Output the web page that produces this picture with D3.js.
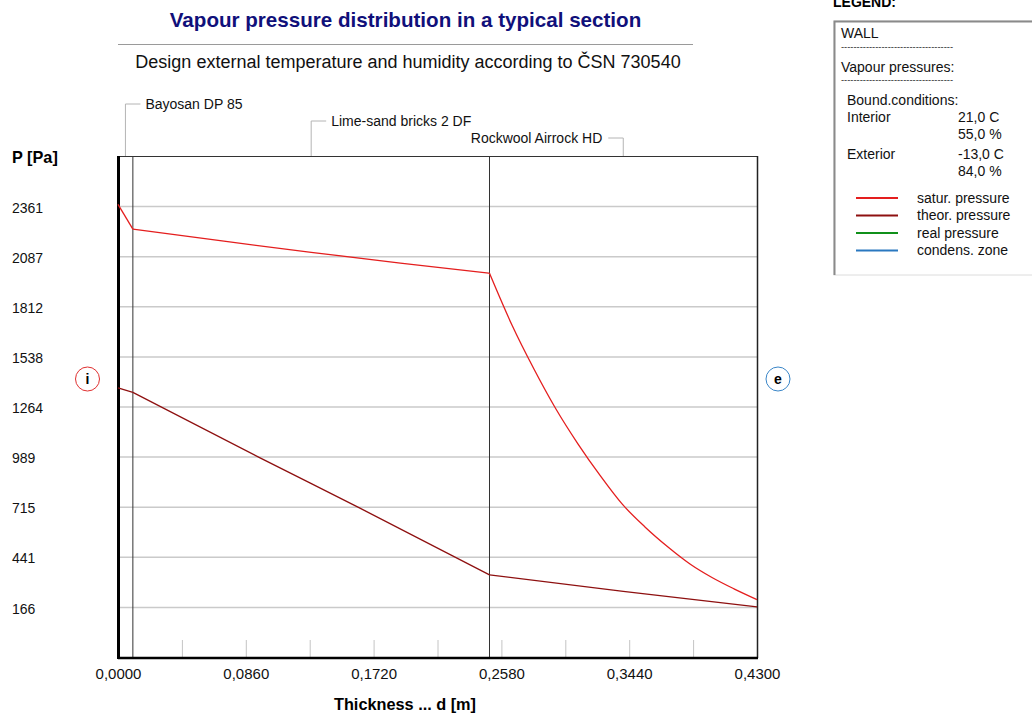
<!DOCTYPE html>
<html>
<head>
<meta charset="utf-8">
<script src="https://cdn.jsdelivr.net/npm/d3@7"></script>
<style>
  body { margin: 0; background: #fff; }
  svg { display: block; font-family: "Liberation Sans", Arial, sans-serif; }
</style>
</head>
<body>
<script>
const width = 1032
const height = 715

// layers of the wall (m)
const layerNames = ['Bayosan DP 85', 'Lime-sand bricks 2 DF', 'Rockwool Airrock HD']
const layerBounds = [0, 0.01, 0.25, 0.43]

// axis ticks
const yTicks = [166, 441, 715, 989, 1264, 1538, 1812, 2087, 2361]
const xTicks = [0, 0.043, 0.086, 0.129, 0.172, 0.215, 0.258, 0.301, 0.344, 0.387, 0.43]
const xLabels = [0, 0.086, 0.172, 0.258, 0.344, 0.43]

// saturation pressure
const saturX = [0, 0.01, 0.07, 0.13, 0.19, 0.25,
  0.2651, 0.2799, 0.2947, 0.3096, 0.3244, 0.3392, 0.3546, 0.3701, 0.3849, 0.3997, 0.4145, 0.43]
const saturP = [2370, 2235, 2170, 2108, 2049, 1993,
  1710, 1469, 1250, 1058, 886, 730, 604, 494, 401, 327, 265, 206]

// theoretical pressure
const theorX = [0, 0.01, 0.0956, 0.1628, 0.25, 0.34, 0.43]
const theorP = [1366, 1341, 982, 707, 341, 251, 166]

// legend
const legendNames = ['satur. pressure', 'theor. pressure', 'real pressure', 'condens. zone']
const legendColors = ['#e41e1e', '#8e1010', '#10901a', '#2a78c0']

const svg = d3.select('body').append('svg')
        .attr('width', width)
        .attr('height', height)

const pLeft = 118, pRight = 757, pTop = 156, pBottom = 657

const xScale = d3.scaleLinear().domain([0, 0.43]).range([pLeft, pRight])
const yScale = d3.scaleLinear().domain([-108.4, 2635.4]).range([pBottom, pTop])

// titles
svg.append('text')
        .attr('x', 405.5).attr('y', 27)
        .attr('text-anchor', 'middle')
        .attr('font-size', 20.6).attr('font-weight', 'bold')
        .attr('fill', '#10107a')
        .text('Vapour pressure distribution in a typical section')

svg.append('line')
        .attr('x1', 118).attr('x2', 693).attr('y1', 44.5).attr('y2', 44.5)
        .attr('stroke', '#9a9a9a')

svg.append('text')
        .attr('x', 408).attr('y', 68)
        .attr('text-anchor', 'middle')
        .attr('font-size', 18)
        .attr('fill', '#111')
        .text('Design external temperature and humidity according to ČSN 730540')

// y axis + grid
const yAxis = d3.axisLeft(yScale)
        .tickValues(yTicks)
        .tickSize(-(pRight - pLeft))
        .tickFormat(d => d)

const gy = svg.append('g')
        .attr('transform', 'translate(' + pLeft + ',0)')
        .call(yAxis)
gy.select('.domain').remove()
gy.selectAll('line').attr('stroke', '#cacaca').attr('stroke-width', 1.5)
gy.selectAll('text')
        .attr('x', 12 - pLeft).attr('dy', '0.45em')
        .attr('text-anchor', 'start')
        .attr('font-size', 14).attr('fill', '#111')
gy.attr('font-family', null).attr('font-size', null)

svg.append('text')
        .attr('x', 12).attr('y', 163)
        .attr('font-size', 16.3).attr('font-weight', 'bold')
        .text('P [Pa]')

// x axis
const xAxis = d3.axisBottom(xScale)
        .tickValues(xTicks)
        .tickSize(-17)
        .tickFormat(d => xLabels.some(v => Math.abs(v - d) < 1e-9) ? d3.format('.4f')(d).replace('.', ',') : '')

const gx = svg.append('g')
        .attr('transform', 'translate(0,' + pBottom + ')')
        .call(xAxis)
gx.select('.domain').remove()
gx.selectAll('line').attr('stroke', '#c4c4c4')
gx.selectAll('text')
        .attr('y', 11)
        .attr('font-size', 15).attr('fill', '#111')
gx.attr('font-family', null).attr('font-size', null)

svg.append('text')
        .attr('x', 405).attr('y', 710)
        .attr('text-anchor', 'middle')
        .attr('font-size', 16.3).attr('font-weight', 'bold')
        .text('Thickness ... d [m]')

// layer boundaries
svg.selectAll('.layer-line')
        .data(layerBounds.slice(1, -1))
        .join('line')
        .attr('class', 'layer-line')
        .attr('x1', d => xScale(d)).attr('x2', d => xScale(d))
        .attr('y1', pTop).attr('y2', pBottom)
        .attr('stroke', '#333')

// frame
svg.append('line').attr('x1', pLeft).attr('x2', pRight).attr('y1', pTop + 0.5).attr('y2', pTop + 0.5).attr('stroke', '#333')
svg.append('line').attr('x1', pRight + 0.5).attr('x2', pRight + 0.5).attr('y1', pTop).attr('y2', pBottom + 1).attr('stroke', '#222').attr('stroke-width', 1.5)
svg.append('line').attr('x1', pLeft).attr('x2', pRight + 1).attr('y1', pBottom + 1).attr('y2', pBottom + 1).attr('stroke', '#000').attr('stroke-width', 2.5)
svg.append('line').attr('x1', pLeft + 0.5).attr('x2', pLeft + 0.5).attr('y1', pTop).attr('y2', pBottom + 2).attr('stroke', '#000').attr('stroke-width', 3)

// layer labels with leaders
layerNames.forEach((name, i) => {
    const mx = xScale((layerBounds[i] + layerBounds[i + 1]) / 2)
    const ly = 104 + i * 17
    const t = svg.append('text')
            .attr('y', ly).attr('dy', '0.35em')
            .attr('font-size', 14).attr('fill', '#111')
            .text(name)
    const w = t.node().getComputedTextLength()
    const goRight = mx + 20 + w < pRight
    const ex = goRight ? mx + 15 : mx - 15
    t.attr('x', goRight ? ex + 5 : ex - 6)
     .attr('text-anchor', goRight ? 'start' : 'end')
    svg.append('path')
            .attr('d', 'M' + mx + ',' + pTop + 'V' + ly + 'H' + ex)
            .attr('fill', 'none')
            .attr('stroke', '#b4b4b4')
})

// curves, drawn layer by layer so the kinks stay sharp
const line = d3.line()
        .x(d => xScale(d[0]))
        .y(d => yScale(d[1]))
        .curve(d3.curveMonotoneX)

const drawCurve = (xs, ps, color) => {
    const pts = xs.map((v, i) => [v, ps[i]])
    for (let k = 0; k < layerBounds.length - 1; k++) {
        const seg = pts.filter(p => p[0] >= layerBounds[k] - 1e-9 && p[0] <= layerBounds[k + 1] + 1e-9)
        svg.append('path')
                .datum(seg)
                .attr('d', line)
                .attr('fill', 'none')
                .attr('stroke', color)
                .attr('stroke-width', 1.3)
    }
}
drawCurve(saturX, saturP, legendColors[0])
drawCurve(theorX, theorP, legendColors[1])

// i / e markers
const markers = [{ x: 87.5, t: 'i', c: '#e03030' }, { x: 778, t: 'e', c: '#3a86c8' }]
markers.forEach(m => {
    svg.append('circle')
            .attr('cx', m.x).attr('cy', 379).attr('r', 12)
            .attr('fill', 'none').attr('stroke', m.c)
    svg.append('text')
            .attr('x', m.x).attr('y', 379).attr('dy', '0.38em')
            .attr('text-anchor', 'middle')
            .attr('font-size', 14).attr('font-weight', 'bold')
            .text(m.t)
})

// legend panel
svg.append('text')
        .attr('x', 833).attr('y', 7)
        .attr('font-size', 14).attr('font-weight', 'bold')
        .text('LEGEND:')

const lg = svg.append('g')
lg.append('rect')
        .attr('x', 834).attr('y', 21).attr('width', 210).attr('height', 254)
        .attr('fill', '#fff').attr('stroke', '#dcdcdc')
lg.append('path')
        .attr('d', 'M834.5,275V21.5H1032')
        .attr('fill', 'none').attr('stroke', '#8a8a8a').attr('stroke-width', 2)

const lgText = (x, y, s, size) => lg.append('text')
        .attr('x', x).attr('y', y).attr('dy', '0.35em')
        .attr('font-size', size || 14).attr('fill', '#111')
        .text(s)

lgText(841, 33, 'WALL')
lgText(841, 67, 'Vapour pressures:')
lg.selectAll('.dash')
        .data([47, 80])
        .join('text')
        .attr('class', 'dash')
        .attr('x', 841).attr('y', d => d).attr('dy', '0.35em')
        .attr('font-size', 9).attr('fill', '#222')
        .attr('textLength', 112).attr('lengthAdjust', 'spacingAndGlyphs')
        .text('-'.repeat(36))
lgText(847, 100, 'Bound.conditions:')
lgText(847, 117, 'Interior')
lgText(958, 117, '21,0 C')
lgText(958, 134, '55,0 %')
lgText(847, 154, 'Exterior')
lgText(958, 154, '-13,0 C')
lgText(958, 171, '84,0 %')

legendNames.forEach((n, i) => {
    const ly = 198 + i * 17.5
    lg.append('line')
            .attr('x1', 856).attr('x2', 898).attr('y1', ly).attr('y2', ly)
            .attr('stroke', legendColors[i]).attr('stroke-width', 2)
    lgText(917, ly, n)
})
</script>
</body>
</html>
